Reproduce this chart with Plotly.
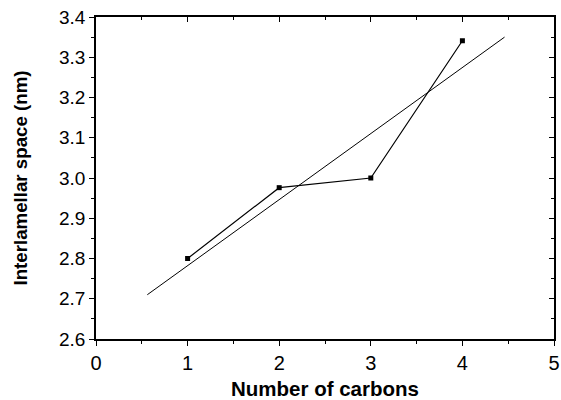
import plotly.graph_objects as go

carbons = [1, 2, 3, 4]
spacing = [2.80, 2.976, 3.00, 3.341]
fit_x = [0.56, 4.46]
fit_y = [2.71, 3.35]

x_ticks = [0, 1, 2, 3, 4, 5]
y_ticks = [2.6, 2.7, 2.8, 2.9, 3.0, 3.1, 3.2, 3.3, 3.4]
y_labels = ["2.6", "2.7", "2.8", "2.9", "3.0", "3.1", "3.2", "3.3", "3.4"]

FONT = "Liberation Sans, Arial, sans-serif"

fig = go.Figure()
fig.add_trace(go.Scatter(x=fit_x, y=fit_y, mode="lines",
                         line=dict(color="black", width=1), showlegend=False))
fig.add_trace(go.Scatter(x=carbons, y=spacing, mode="lines+markers",
                         line=dict(color="black", width=1.2),
                         marker=dict(symbol="square", size=5, color="black"),
                         showlegend=False))

axis_common = dict(showgrid=False, zeroline=False, linecolor="black", linewidth=1.5,
                   tickcolor="black", tickwidth=1.3)

fig.update_layout(
    width=561, height=400,
    margin=dict(l=96, r=7, t=17, b=61),
    paper_bgcolor="white", plot_bgcolor="white",
    font=dict(family=FONT, color="black"),
    xaxis=dict(range=[0, 5], tickvals=x_ticks, ticks="outside", ticklen=5,
               tickfont=dict(size=20, family=FONT), ticklabeloverflow="allow",
               minor=dict(dtick=0.5, ticks="outside", ticklen=3, tickcolor="black"),
               title=dict(text="<b>Number of carbons</b>", font=dict(size=20.5, family=FONT), standoff=15),
               automargin=False,
               **axis_common),
    yaxis=dict(range=[2.6, 3.4], tickvals=y_ticks, ticktext=y_labels, ticks="outside", ticklen=5,
               tickfont=dict(size=19, family=FONT), ticklabeloverflow="allow",
               minor=dict(dtick=0.05, tick0=2.6, ticks="outside", ticklen=3, tickcolor="black"),
               title=dict(text="<b>Interlamellar space (nm)</b>", font=dict(size=18.7, family=FONT), standoff=26),
               automargin=False,
               **axis_common),
    xaxis2=dict(range=[0, 5], overlaying="x", side="top", tickvals=x_ticks, ticks="inside", ticklen=5,
                showticklabels=False,
                minor=dict(dtick=0.5, ticks="inside", ticklen=3, tickcolor="black"),
                **axis_common),
    yaxis2=dict(range=[2.6, 3.4], overlaying="y", side="right", tickvals=y_ticks, ticks="inside", ticklen=5,
                showticklabels=False,
                minor=dict(dtick=0.05, tick0=2.6, ticks="inside", ticklen=3, tickcolor="black"),
                **axis_common),
)
# dummy trace to activate top/right axes
fig.add_trace(go.Scatter(x=[None], y=[None], xaxis="x2", yaxis="y2", showlegend=False, hoverinfo="skip"))

fig.write_html("out.html")
